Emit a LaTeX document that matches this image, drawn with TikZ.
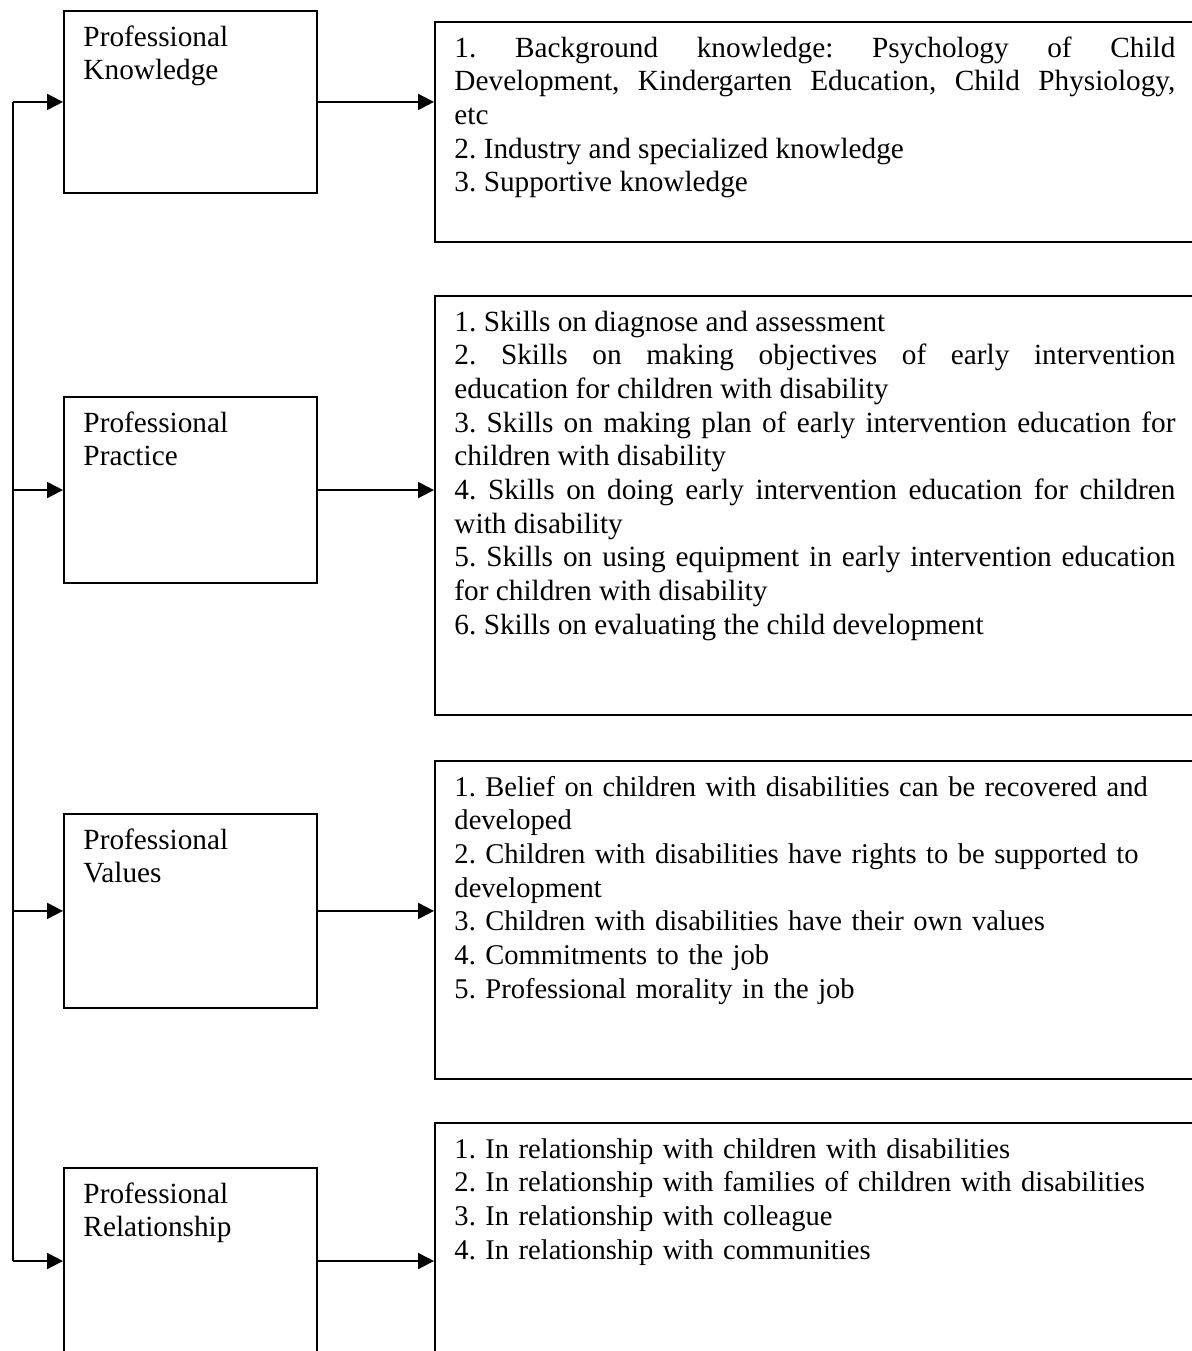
\documentclass[tikz,border=0pt]{standalone}
\usepackage{fontspec}
\setmainfont{Liberation Serif}
\usepackage{tikz}
\usetikzlibrary{positioning,arrows.meta}
\hyphenpenalty=10000
\exhyphenpenalty=10000
\tolerance=10000
\frenchspacing
\tikzset{
  headbox/.style = {rectangle, draw, line width=0.8pt, anchor=north west,
                    minimum width=103.7pt, inner sep=0pt},
  listbox/.style = {rectangle, draw, line width=0.8pt, anchor=north west,
                    minimum width=316pt, inner sep=0pt},
  boxtxt/.style  = {anchor=base west, inner sep=0pt, xshift=8.2pt, yshift=-14.8pt,
                    font=\fontsize{12pt}{13.8pt}\selectfont},
  narrowtxt/.style = {boxtxt, font=\fontsize{11.7pt}{13.8pt}\selectfont},
  flow/.style    = {-{Triangle[length=6.5pt, width=6.5pt]}, line width=0.8pt},
}

\begin{document}
\begin{tikzpicture}[x=0.41pt, y=-0.41pt]
  \useasboundingbox (0,0) rectangle (1192,1351);
  \clip (0,0) rectangle (1192,1351);

  % competence areas
  \node[headbox, minimum height=74.6pt] (know) at (63,10) {};
  \node[headbox, minimum height=76.3pt] (prac) at (63,396) {};
  \node[headbox, minimum height=79.5pt] (vals) at (63,813) {};
  \node[headbox, minimum height=76.3pt] (rel)  at (63,1167) {};
  \node[boxtxt, text width=95pt, align=left] (knowtxt) at (know.north west) {Professional\\Knowledge};
  \node[boxtxt, text width=95pt, align=left] (practxt) at (prac.north west) {Professional\\Practice};
  \node[boxtxt, text width=95pt, align=left] (valstxt) at (vals.north west) {Professional\\Values};
  \node[boxtxt, text width=95pt, align=left] (reltxt)  at (rel.north west)  {Professional\\Relationship};

  % item lists
  \node[listbox, minimum height=90.2pt]  (knowlist) at (434,21) {};
  \node[listbox, minimum height=171.8pt] (praclist) at (434,295) {};
  \node[listbox, minimum height=130.4pt] (valslist) at (434,760) {};
  \node[listbox, minimum height=97.6pt]  (rellist)  at (434,1122) {};

  \node[boxtxt, text width=295.6pt, align=justify] (knowitems) at (knowlist.north west)
    {1. Background knowledge: Psychology of Child\linebreak Development, Kindergarten Education, Child Physiology,\linebreak etc\\
     2. Industry and specialized knowledge\\
     3. Supportive knowledge};
  \node[boxtxt, text width=295.6pt, align=justify] (pracitems) at (praclist.north west)
    {1. Skills on diagnose and assessment\\
     2. Skills on making objectives of early intervention\linebreak education for children with disability\\
     3. Skills on making plan of early intervention education for\linebreak children with disability\\
     4. Skills on doing early intervention education for children\linebreak with disability\\
     5. Skills on using equipment in early intervention education\linebreak for children with disability\\
     6. Skills on evaluating the child development};
  \node[narrowtxt, text width=295.6pt, align=left] (valsitems) at (valslist.north west)
    {1. Belief on children with disabilities can be recovered and developed\\
     2. Children with disabilities have rights to be supported to development\\
     3. Children with disabilities have their own values\\
     4. Commitments to the job\\
     5. Professional morality in the job};
  \node[narrowtxt, text width=295.6pt, align=left] (relitems) at (rellist.north west)
    {1. In relationship with children with disabilities\\
     2. In relationship with families of children with disabilities\\
     3. In relationship with colleague\\
     4. In relationship with communities};

  % left trunk feeding the four areas
  \coordinate (trunk) at (13,0);
  \draw[line width=0.8pt] (know.west -| trunk) -- (rel.west -| trunk);
  \draw[flow] (know.west -| trunk) -- (know.west); \draw[flow] (prac.west -| trunk) -- (prac.west);
  \draw[flow] (vals.west -| trunk) -- (vals.west); \draw[flow] (rel.west -| trunk) -- (rel.west);

  \draw[flow] (know.east) -- (know.east -| knowlist.west); \draw[flow] (prac.east) -- (prac.east -| praclist.west);
  \draw[flow] (vals.east) -- (vals.east -| valslist.west); \draw[flow] (rel.east) -- (rel.east -| rellist.west);
\end{tikzpicture}
\end{document}
